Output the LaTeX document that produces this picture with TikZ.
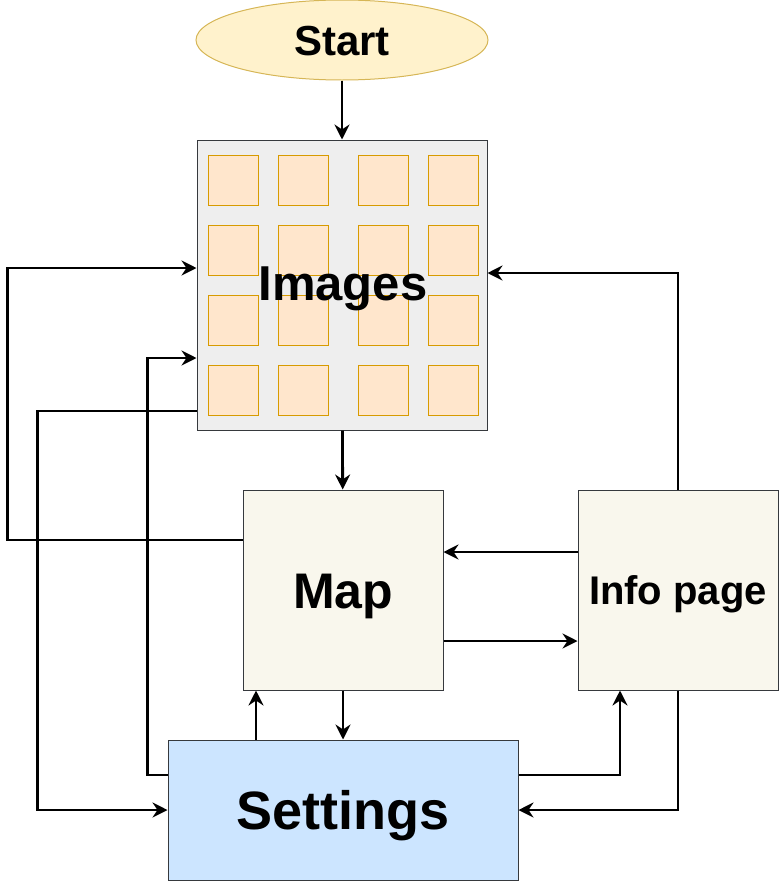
\documentclass[tikz,border=0pt]{standalone}
\usepackage{fontspec}
\setmainfont{Liberation Sans}
\usetikzlibrary{shapes.geometric,arrows.meta}
\definecolor{startfill}{HTML}{FFF2CC}
\definecolor{startline}{HTML}{D6B656}
\definecolor{imgfill}{HTML}{EEEEEE}
\definecolor{tilefill}{HTML}{FFE6CC}
\definecolor{tileline}{HTML}{D79B00}
\definecolor{pagefill}{HTML}{F9F7ED}
\definecolor{setfill}{HTML}{CCE5FF}
\definecolor{boxline}{HTML}{36393D}
\begin{document}
\begin{tikzpicture}[x=1pt,y=-1pt,
    box/.style={rectangle,draw=boxline,line width=1pt,inner sep=0pt,text depth=0pt},
    tile/.style={rectangle,draw=tileline,fill=tilefill,line width=1pt,
      minimum size=50pt,inner sep=0pt},
    startnode/.style={ellipse,draw=startline,fill=startfill,line width=1pt,
      minimum width=292pt,minimum height=80pt,inner sep=0pt,
      text height=30pt,text depth=0pt,
      font=\fontsize{42pt}{42pt}\selectfont\bfseries},
    pagebox/.style={box,fill=pagefill,minimum size=200pt},
    link/.style={line width=2.8pt,-{Stealth[length=15pt,width=15pt,inset=5pt]}}]
    \useasboundingbox (0,0) rectangle (779,881);

    \node[startnode] (node-start) at (342,40) {Start};
    \node[box,fill=imgfill,minimum size=290pt] (node-images) at (342,285) {};
    \foreach \col/\cx in {1/233,2/303,3/383,4/453}
      \foreach \row/\cy in {1/180,2/250,3/320,4/390}
        \node[tile] (tile-\row-\col) at (\cx,\cy) {};
    \node[inner sep=0pt,text height=35pt,text depth=0pt,
      font=\fontsize{49pt}{49pt}\selectfont\bfseries]
      (images-text) at (343,283) {Images};
    \node[pagebox,text height=36pt,font=\fontsize{50pt}{50pt}\selectfont\bfseries]
      (node-map) at (343,590) {Map};
    \node[pagebox,text height=28.6pt,font=\fontsize{40pt}{40pt}\selectfont\bfseries]
      (node-info) at (678,590) {Info page};
    \node[box,fill=setfill,minimum width=350pt,minimum height=140pt,
      text height=38.7pt,font=\fontsize{54pt}{54pt}\selectfont\bfseries]
      (node-settings) at (343,810) {Settings};

    \draw[link] (node-start) -- (node-images);
    \draw[link] (node-images) -- (node-map);
    \draw[link] ([yshift=50pt]node-map.west) -- ++(-235,0)
      |- ([yshift=17pt]node-images.west);
    \draw[link] ([yshift=35pt]node-settings.west) -- ++(-20,0)
      |- ([yshift=-73pt]node-images.west);
    \draw[link] ([yshift=-126pt]node-images.west) -- ++(-159,0)
      |- (node-settings.west);
    \draw[link] (node-info.north) |- ([yshift=12pt]node-images.east);
    \draw[link] ([yshift=38pt]node-info.west) -- ([yshift=38pt]node-map.east);
    \draw[link] ([yshift=-51pt]node-map.east) -- ([yshift=-51pt]node-info.west);
    \draw[link] (node-map.south) -- (node-settings.north);
    \draw[link] ([xshift=-87pt]node-settings.north)
      -- ([xshift=-87pt]node-map.south);
    \draw[link] ([yshift=35pt]node-settings.east) -| ([xshift=-58pt]node-info.south);
    \draw[link] (node-info.south) |- (node-settings.east);
\end{tikzpicture}
\end{document}
